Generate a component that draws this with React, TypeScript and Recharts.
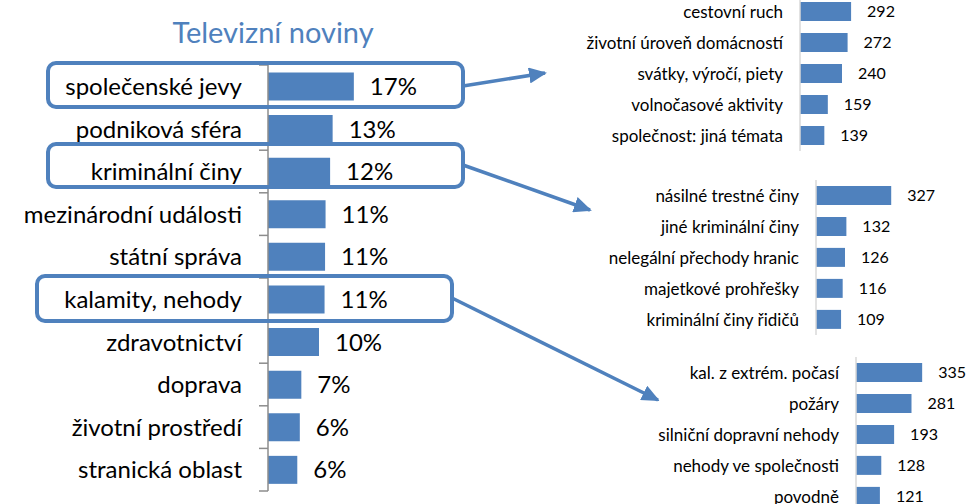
import React from 'react'
import { BarChart, Bar, XAxis, YAxis, LabelList } from 'recharts'

// ── data ──────────────────────────────────────────────
const mainCategories = [
  'společenské jevy', 'podniková sféra', 'kriminální činy', 'mezinárodní události',
  'státní správa', 'kalamity, nehody', 'zdravotnictví', 'doprava',
  'životní prostředí', 'stranická oblast',
]
const mainShares = [17.0, 12.8, 12.3, 11.4, 11.3, 11.2, 10.1, 6.6, 6.3, 5.8]

const societyTopics = [
  'cestovní ruch', 'životní úroveň domácností', 'svátky, výročí, piety',
  'volnočasové aktivity', 'společnost: jiná témata',
]
const societyCounts = [292, 272, 240, 159, 139]

const crimeTopics = [
  'násilné trestné činy', 'jiné kriminální činy', 'nelegální přechody hranic',
  'majetkové prohřešky', 'kriminální činy řidičů',
]
const crimeCounts = [327, 132, 126, 116, 109]

const disasterTopics = [
  'kal. z extrém. počasí', 'požáry', 'silniční dopravní nehody',
  'nehody ve společnosti', 'povodně',
]
const disasterCounts = [335, 281, 193, 128, 121]

const BLUE = '#4f81bd'
const FONT = 'Lato, "Open Sans", sans-serif'

const zip = (names: string[], values: number[]) =>
  names.map((name, i) => ({ name, value: values[i] }))

// ── main chart ────────────────────────────────────────
const MAIN_H = 504
const MAIN_MARGIN = { top: 65, right: 111, bottom: 13, left: 0 }
const mainBand = (MAIN_H - MAIN_MARGIN.top - MAIN_MARGIN.bottom) / mainCategories.length

const MainTick = ({ x, y, payload, index }: any) => (
  <g>
    {index === 0 && (
      <line x1={x - 9} x2={x} y1={y - mainBand / 2} y2={y - mainBand / 2} stroke="#8c8c8c" strokeWidth={1.5} />
    )}
    <line x1={x - 9} x2={x} y1={y + mainBand / 2} y2={y + mainBand / 2} stroke="#8c8c8c" strokeWidth={1.5} />
    <text x={x - 26} y={y} dy="0.36em" textAnchor="end" fontSize={24} fill="#000">
      {payload.value}
    </text>
  </g>
)

function MainChart() {
  const data = zip(mainCategories, mainShares)
  return (
    <BarChart width={480} height={MAIN_H} data={data} layout="vertical"
      margin={MAIN_MARGIN} barCategoryGap="17.5%">
      <XAxis type="number" domain={[0, 20]} hide />
      <YAxis type="category" dataKey="name" width={268} tickLine={false} tickSize={0} tickMargin={0}
        axisLine={{ stroke: '#8c8c8c', strokeWidth: 1.5 }} tick={<MainTick />} interval={0} />
      <Bar dataKey="value" fill={BLUE} isAnimationActive={false}>
        <LabelList dataKey="value" position="right" offset={16} fontSize={24} fill="#000"
          formatter={(v: any) => `${Math.round(v)}%`} />
      </Bar>
    </BarChart>
  )
}

// ── detail charts ─────────────────────────────────────
function DetailChart({ names, values, width, axisWidth, rightMargin }: {
  names: string[]; values: number[]; width: number; axisWidth: number; rightMargin: number
}) {
  return (
    <BarChart width={width} height={155} data={zip(names, values)} layout="vertical"
      margin={{ top: 0, right: rightMargin, bottom: 0, left: 0 }} barCategoryGap="19%">
      <XAxis type="number" domain={[0, 400]} hide />
      <YAxis type="category" dataKey="name" width={axisWidth} tickLine={false} tickSize={0}
        tickMargin={17} interval={0} axisLine={{ stroke: '#d9d9d9', strokeWidth: 1.5 }}
        tick={{ fill: '#000', fontSize: 17 }} />
      <Bar dataKey="value" fill={BLUE} isAnimationActive={false}>
        <LabelList dataKey="value" position="right" offset={16} fontSize={16} fill="#000" />
      </Bar>
    </BarChart>
  )
}

// ── highlight boxes and arrows ────────────────────────
function Overlay() {
  return (
    <svg width={968} height={504} style={{ position: 'absolute', left: 0, top: 0, pointerEvents: 'none' }}>
      <defs>
        <marker id="head" markerUnits="userSpaceOnUse" markerWidth={18} markerHeight={16}
          refX={16} refY={8} orient="auto">
          <path d="M0,0 L18,8 L0,16 z" fill={BLUE} />
        </marker>
      </defs>
      <g fill="none" stroke={BLUE} strokeWidth={4}>
        <rect x={48} y={63} width={415} height={44} rx={8} />
        <rect x={48} y={144} width={415} height={43} rx={8} />
        <rect x={37} y={276} width={415} height={45} rx={8} />
        <line x1={463} y1={86} x2={545} y2={73} markerEnd="url(#head)" strokeWidth={3.5} />
        <line x1={463} y1={165} x2={590} y2={210} markerEnd="url(#head)" strokeWidth={3.5} />
        <line x1={452} y1={298} x2={658} y2={400} markerEnd="url(#head)" strokeWidth={3.5} />
      </g>
    </svg>
  )
}

export default function App() {
  return (
    <div style={{ position: 'absolute', left: 0, top: 0, width: 968, height: 504, overflow: 'hidden',
      background: '#fff', fontFamily: FONT }}>
      <div style={{ position: 'absolute', left: 0, top: 0 }}>
        <MainChart />
      </div>
      <div style={{ position: 'absolute', left: 140, top: 13, width: 266, textAlign: 'center',
        color: BLUE, fontSize: 29, lineHeight: '38px' }}>
        Televizní noviny
      </div>
      <div style={{ position: 'absolute', left: 560, top: -4 }}>
        <DetailChart names={societyTopics} values={societyCounts} width={408} axisWidth={240} rightMargin={98} />
      </div>
      <div style={{ position: 'absolute', left: 560, top: 180 }}>
        <DetailChart names={crimeTopics} values={crimeCounts} width={408} axisWidth={256} rightMargin={60} />
      </div>
      <div style={{ position: 'absolute', left: 600, top: 357 }}>
        <DetailChart names={disasterTopics} values={disasterCounts} width={368} axisWidth={256} rightMargin={33} />
      </div>
      <Overlay />
    </div>
  )
}
